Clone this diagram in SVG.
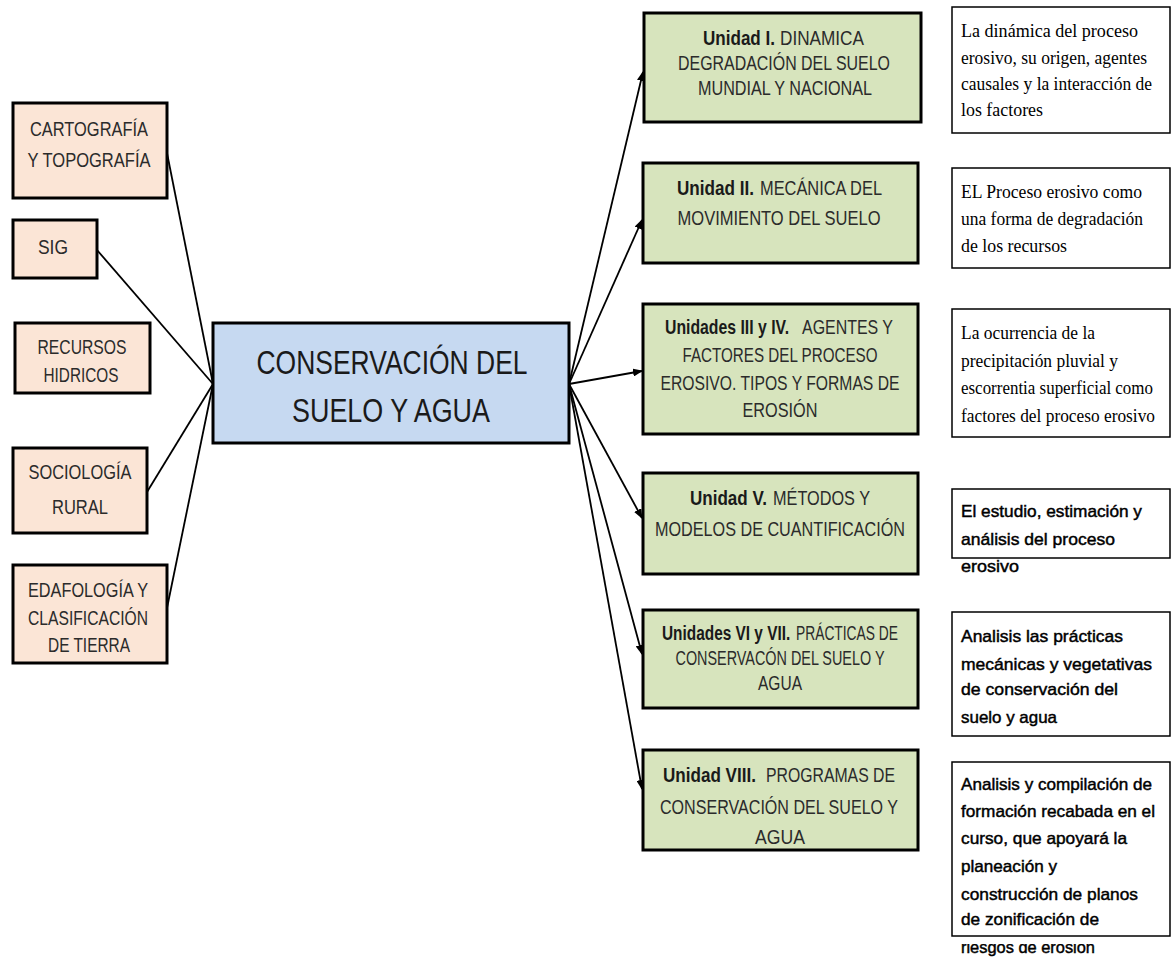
<svg xmlns="http://www.w3.org/2000/svg" width="1172" height="957" viewBox="0 0 1172 957">
<style>
.peach{fill:#FBE5D6;stroke:#000;stroke-width:3}
.green{fill:#D7E4BD;stroke:#000;stroke-width:3}
.blue{fill:#C6D9F1;stroke:#000;stroke-width:3}
.note{fill:#fff;stroke:#000;stroke-width:1.5}
.c{font-family:"Liberation Sans",Arial,sans-serif;font-size:20px;fill:#2b2b2b;text-anchor:middle}
.l{font-family:"Liberation Sans",Arial,sans-serif;font-size:20px;fill:#2b2b2b}
.b{font-family:"Liberation Sans",Arial,sans-serif;font-size:20px;font-weight:bold;fill:#1a1a1a}
.big{font-family:"Liberation Sans",Arial,sans-serif;font-size:33px;fill:#1a1a1a;text-anchor:middle}
.s{font-family:"Liberation Serif","Times New Roman",serif;font-size:18px;fill:#000}
.n{font-family:"Liberation Sans",Arial,sans-serif;font-size:17px;fill:#000;stroke:#000;stroke-width:0.45}
.ln{stroke:#000;stroke-width:1.8;fill:none}
</style>
<defs>
<marker id="ah" markerWidth="10" markerHeight="8" refX="9" refY="4" orient="auto" markerUnits="userSpaceOnUse">
<path d="M0,0 L10,4 L0,8 Z" fill="#000"/>
</marker>
<clipPath id="clipLast"><rect x="950" y="944" width="222" height="13"/></clipPath>
</defs>

<g id="connectors">
<line class="ln" x1="167" y1="153" x2="213" y2="384"/>
<line class="ln" x1="97" y1="250" x2="213" y2="384"/>
<line class="ln" x1="147" y1="492" x2="213" y2="384"/>
<line class="ln" x1="167" y1="608" x2="213" y2="384"/>
<line class="ln" x1="569" y1="384" x2="643" y2="72" marker-end="url(#ah)"/>
<line class="ln" x1="569" y1="384" x2="642" y2="220" marker-end="url(#ah)"/>
<line class="ln" x1="569" y1="384" x2="642" y2="371" marker-end="url(#ah)"/>
<line class="ln" x1="569" y1="384" x2="642" y2="518" marker-end="url(#ah)"/>
<line class="ln" x1="569" y1="384" x2="642" y2="654" marker-end="url(#ah)"/>
<line class="ln" x1="569" y1="384" x2="642" y2="789" marker-end="url(#ah)"/>
</g>

<g id="cartografia">
<rect class="peach" x="13" y="103" width="154" height="95"/>
<text class="c" x="89" y="136" textLength="118" lengthAdjust="spacingAndGlyphs">CARTOGRAFÍA</text>
<text class="c" x="89" y="167" textLength="123" lengthAdjust="spacingAndGlyphs">Y TOPOGRAFÍA</text>
</g>
<g id="sig">
<rect class="peach" x="13" y="220" width="84" height="58"/>
<text class="c" x="53" y="254" textLength="30" lengthAdjust="spacingAndGlyphs">SIG</text>
</g>
<g id="recursos">
<rect class="peach" x="15" y="323" width="135" height="70"/>
<text class="c" x="82" y="354" textLength="89" lengthAdjust="spacingAndGlyphs">RECURSOS</text>
<text class="c" x="81" y="382" textLength="75" lengthAdjust="spacingAndGlyphs">HIDRICOS</text>
</g>
<g id="sociologia">
<rect class="peach" x="13" y="448" width="134" height="85"/>
<text class="c" x="80" y="479" textLength="103" lengthAdjust="spacingAndGlyphs">SOCIOLOGÍA</text>
<text class="c" x="80" y="514" textLength="56" lengthAdjust="spacingAndGlyphs">RURAL</text>
</g>
<g id="edafologia">
<rect class="peach" x="13" y="565" width="154" height="98"/>
<text class="c" x="88" y="597" textLength="120" lengthAdjust="spacingAndGlyphs">EDAFOLOGÍA Y</text>
<text class="c" x="88" y="625" textLength="120" lengthAdjust="spacingAndGlyphs">CLASIFICACIÓN</text>
<text class="c" x="89" y="652" textLength="82" lengthAdjust="spacingAndGlyphs">DE TIERRA</text>
</g>

<g id="central">
<rect class="blue" x="213" y="323" width="356" height="120"/>
<text class="big" x="392" y="374" textLength="271" lengthAdjust="spacingAndGlyphs">CONSERVACIÓN DEL</text>
<text class="big" x="391" y="422" textLength="198" lengthAdjust="spacingAndGlyphs">SUELO Y AGUA</text>
</g>

<g id="unidad1">
<rect class="green" x="644" y="13" width="277" height="109"/>
<text class="b" x="703" y="45" textLength="72" lengthAdjust="spacingAndGlyphs">Unidad I.</text>
<text class="l" x="780" y="45" textLength="84" lengthAdjust="spacingAndGlyphs">DINAMICA</text>
<text class="c" x="784" y="70" textLength="212" lengthAdjust="spacingAndGlyphs">DEGRADACIÓN DEL SUELO</text>
<text class="c" x="785" y="95" textLength="174" lengthAdjust="spacingAndGlyphs">MUNDIAL Y NACIONAL</text>
</g>
<g id="unidad2">
<rect class="green" x="643" y="163" width="275" height="100"/>
<text class="b" x="677" y="195" textLength="77" lengthAdjust="spacingAndGlyphs">Unidad II.</text>
<text class="l" x="760" y="195" textLength="122" lengthAdjust="spacingAndGlyphs">MECÁNICA DEL</text>
<text class="c" x="779" y="225" textLength="203" lengthAdjust="spacingAndGlyphs">MOVIMIENTO DEL SUELO</text>
</g>
<g id="unidad3">
<rect class="green" x="643" y="304" width="275" height="130"/>
<text class="b" transform="translate(665,334) scale(0.79,1)" x="0" y="0">Unidades  III y IV.</text>
<text class="l" x="802" y="334" textLength="91" lengthAdjust="spacingAndGlyphs">AGENTES Y</text>
<text class="c" x="780" y="362" textLength="195" lengthAdjust="spacingAndGlyphs">FACTORES DEL PROCESO</text>
<text class="c" x="780" y="390" textLength="239" lengthAdjust="spacingAndGlyphs">EROSIVO. TIPOS Y FORMAS DE</text>
<text class="c" x="780" y="417" textLength="75" lengthAdjust="spacingAndGlyphs">EROSIÓN</text>
</g>
<g id="unidad5">
<rect class="green" x="643" y="473" width="275" height="101"/>
<text class="b" x="690" y="505" textLength="77" lengthAdjust="spacingAndGlyphs">Unidad V.</text>
<text class="l" x="773" y="505" textLength="97" lengthAdjust="spacingAndGlyphs">MÉTODOS Y</text>
<text class="c" x="780" y="536" textLength="250" lengthAdjust="spacingAndGlyphs">MODELOS DE CUANTIFICACIÓN</text>
</g>
<g id="unidad6">
<rect class="green" x="643" y="610" width="275" height="98"/>
<text class="b" transform="translate(662,640) scale(0.77,1)" x="0" y="0">Unidades VI y VII.</text>
<text class="l" x="796" y="640" textLength="102" lengthAdjust="spacingAndGlyphs">PRÁCTICAS DE</text>
<text class="c" x="780" y="665" textLength="209" lengthAdjust="spacingAndGlyphs">CONSERVACÓN  DEL SUELO Y</text>
<text class="c" x="780" y="690" textLength="44" lengthAdjust="spacingAndGlyphs">AGUA</text>
</g>
<g id="unidad8">
<rect class="green" x="643" y="750" width="275" height="100"/>
<text class="b" x="663" y="782" textLength="93" lengthAdjust="spacingAndGlyphs">Unidad VIII.</text>
<text class="l" x="766" y="782" textLength="129" lengthAdjust="spacingAndGlyphs">PROGRAMAS DE</text>
<text class="c" x="779" y="814" textLength="238" lengthAdjust="spacingAndGlyphs">CONSERVACIÓN  DEL  SUELO Y</text>
<text class="c" x="780" y="844" textLength="50" lengthAdjust="spacingAndGlyphs">AGUA</text>
</g>

<g id="nota1">
<rect class="note" x="952" y="7" width="218" height="126"/>
<text class="s" x="961" y="37" textLength="177" lengthAdjust="spacingAndGlyphs">La dinámica del proceso</text>
<text class="s" x="961" y="64" textLength="186" lengthAdjust="spacingAndGlyphs">erosivo, su origen, agentes</text>
<text class="s" x="961" y="90" textLength="191" lengthAdjust="spacingAndGlyphs">causales y la interacción de</text>
<text class="s" x="961" y="116" textLength="82" lengthAdjust="spacingAndGlyphs">los factores</text>
</g>
<g id="nota2">
<rect class="note" x="952" y="168" width="218" height="100"/>
<text class="s" x="961" y="198" textLength="181" lengthAdjust="spacingAndGlyphs">EL Proceso erosivo como</text>
<text class="s" x="961" y="225" textLength="182" lengthAdjust="spacingAndGlyphs">una forma de degradación</text>
<text class="s" x="961" y="252" textLength="106" lengthAdjust="spacingAndGlyphs">de los recursos</text>
</g>
<g id="nota3">
<rect class="note" x="952" y="309" width="218" height="128"/>
<text class="s" x="961" y="339" textLength="134" lengthAdjust="spacingAndGlyphs">La ocurrencia de la</text>
<text class="s" x="961" y="367" textLength="157" lengthAdjust="spacingAndGlyphs">precipitación pluvial y</text>
<text class="s" x="961" y="394" textLength="192" lengthAdjust="spacingAndGlyphs">escorrentia superficial como</text>
<text class="s" x="961" y="422" textLength="194" lengthAdjust="spacingAndGlyphs">factores del proceso erosivo</text>
</g>
<g id="nota4">
<rect class="note" x="952" y="489" width="218" height="69"/>
<text class="n" x="961" y="517" textLength="181" lengthAdjust="spacingAndGlyphs">El estudio, estimación y</text>
<text class="n" x="961" y="545" textLength="154" lengthAdjust="spacingAndGlyphs">análisis del proceso</text>
<text class="n" x="961" y="572" textLength="58" lengthAdjust="spacingAndGlyphs">erosivo</text>
</g>
<g id="nota5">
<rect class="note" x="952" y="612" width="218" height="124"/>
<text class="n" x="961" y="642" textLength="162" lengthAdjust="spacingAndGlyphs">Analisis las prácticas</text>
<text class="n" x="961" y="670" textLength="191" lengthAdjust="spacingAndGlyphs">mecánicas y vegetativas</text>
<text class="n" x="961" y="695" textLength="157" lengthAdjust="spacingAndGlyphs">de conservación del</text>
<text class="n" x="961" y="723" textLength="96" lengthAdjust="spacingAndGlyphs">suelo y agua</text>
</g>
<g id="nota6">
<rect class="note" x="952" y="762" width="218" height="174"/>
<text class="n" x="961" y="790" textLength="191" lengthAdjust="spacingAndGlyphs">Analisis y compilación de</text>
<text class="n" x="961" y="817" textLength="194" lengthAdjust="spacingAndGlyphs">formación recabada en el</text>
<text class="n" x="961" y="844" textLength="166" lengthAdjust="spacingAndGlyphs">curso, que apoyará la</text>
<text class="n" x="961" y="872" textLength="96" lengthAdjust="spacingAndGlyphs">planeación y</text>
<text class="n" x="961" y="900" textLength="177" lengthAdjust="spacingAndGlyphs">construcción de planos</text>
<text class="n" x="961" y="925" textLength="138" lengthAdjust="spacingAndGlyphs">de zonificación de</text>
<text class="n" x="961" y="953" textLength="134" lengthAdjust="spacingAndGlyphs" clip-path="url(#clipLast)">riesgos de erosión</text>
</g>
</svg>
